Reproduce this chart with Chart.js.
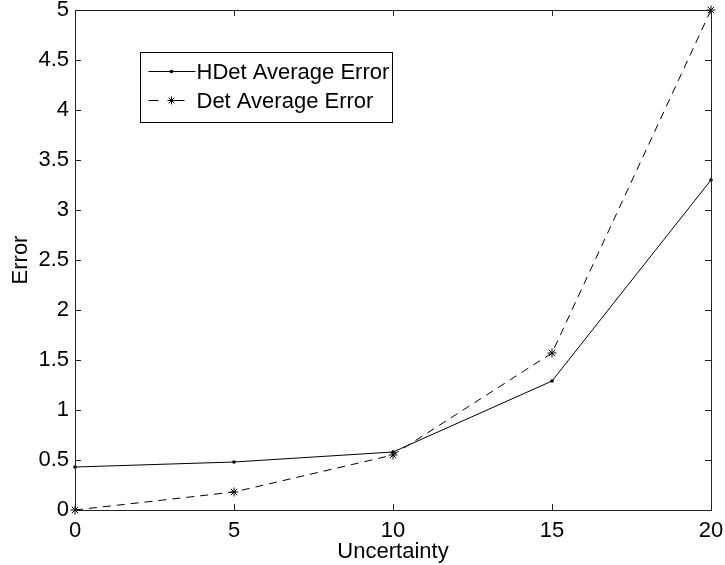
<!DOCTYPE html>
<html><head><meta charset="utf-8">
<script src="https://cdn.jsdelivr.net/npm/chart.js@4/dist/chart.umd.min.js"></script>
<style>html,body{margin:0;padding:0;background:#fff}#wrap{width:725px;height:565px}</style>
</head><body><div id="wrap"><canvas id="c" width="725" height="565"></canvas></div>
<script>
const uncertainty = [0, 5, 10, 15, 20];
const hdetError = [0.43, 0.48, 0.58, 1.29, 3.30];
const detError = [0.00, 0.18, 0.55, 1.57, 5.00];
const xTicks = [0, 5, 10, 15, 20];
const yTicks = [0, 0.5, 1, 1.5, 2, 2.5, 3, 3.5, 4, 4.5, 5];
const seriesNames = ['HDet Average Error', 'Det Average Error'];

const FONT = 'Liberation Sans, Arial, Helvetica, sans-serif';

const boxTicks = {
  id: 'boxTicks',
  afterDraw(chart) {
    const {ctx, chartArea: a, scales: {x, y}} = chart;
    ctx.save();
    ctx.strokeStyle = '#222';
    ctx.lineWidth = 1;
    ctx.strokeRect(a.left + 0.5, a.top + 0.5, a.right - a.left, a.bottom - a.top);
    const L = 6;
    ctx.beginPath();
    xTicks.forEach(v => {
      const px = Math.round(x.getPixelForValue(v)) + 0.5;
      ctx.moveTo(px, a.bottom); ctx.lineTo(px, a.bottom - L);
      ctx.moveTo(px, a.top); ctx.lineTo(px, a.top + L);
    });
    yTicks.forEach(v => {
      const py = Math.round(y.getPixelForValue(v)) + 0.5;
      ctx.moveTo(a.left, py); ctx.lineTo(a.left + L, py);
      ctx.moveTo(a.right, py); ctx.lineTo(a.right - L, py);
    });
    ctx.stroke();
    // legend
    const bx = 140.5, by = 52.5, bw = 252, bh = 70;
    ctx.fillStyle = '#fff';
    ctx.fillRect(bx, by, bw, bh);
    ctx.strokeStyle = '#000';
    ctx.strokeRect(bx, by, bw, bh);
    ctx.font = '22px ' + FONT;
    ctx.textBaseline = 'middle';
    ctx.fillStyle = '#000';
    const rows = [by + 18, by + 47];
    chart.data.datasets.forEach((ds, i) => {
      const ry = Math.round(rows[i]) + 0.5;
      ctx.beginPath();
      ctx.setLineDash(i === 1 ? [10, 16] : []);
      ctx.strokeStyle = '#000';
      ctx.moveTo(bx + 8, ry); ctx.lineTo(bx + 55, ry);
      ctx.stroke();
      ctx.setLineDash([]);
      const mx = bx + 31;
      if (i === 0) {
        ctx.beginPath(); ctx.arc(mx, ry, 1.8, 0, Math.PI * 2); ctx.fill();
      } else {
        ctx.beginPath();
        const r = 4;
        for (let k = 0; k < 4; k++) {
          const ang = k * Math.PI / 4;
          ctx.moveTo(mx - r * Math.cos(ang), ry - r * Math.sin(ang));
          ctx.lineTo(mx + r * Math.cos(ang), ry + r * Math.sin(ang));
        }
        ctx.stroke();
      }
      ctx.fillText(ds.label, bx + 56, ry + 1);
    });
    ctx.restore();
  }
};

new Chart(document.getElementById('c'), {
  type: 'line',
  data: {
    datasets: [
      {
        label: seriesNames[0],
        data: uncertainty.map((u, i) => ({x: u, y: hdetError[i]})),
        borderColor: '#000', backgroundColor: '#000', borderWidth: 1,
        pointStyle: 'circle', pointRadius: 1.8, pointBorderWidth: 0,
        tension: 0, clip: false
      },
      {
        label: seriesNames[1],
        data: uncertainty.map((u, i) => ({x: u, y: detError[i]})),
        borderColor: '#000', backgroundColor: '#000', borderWidth: 1,
        borderDash: [8, 6],
        pointStyle: 'star', pointRadius: 4.5, pointBorderWidth: 1,
        tension: 0, clip: false
      }
    ]
  },
  options: {
    responsive: false, animation: false, devicePixelRatio: 1,
    layout: {padding: {top: 0, right: 14, left: 0, bottom: 0}},
    plugins: {legend: {display: false}, tooltip: {enabled: false}},
    scales: {
      x: {
        type: 'linear', min: 0, max: 20,
        afterBuildTicks: s => { s.ticks = xTicks.map(v => ({value: v})); },
        afterFit: s => { s.height = 55; s.paddingLeft = 0; s.paddingRight = 0; },
        grid: {display: false, drawTicks: false},
        border: {display: false},
        ticks: {color: '#000', font: {family: FONT, size: 22}, padding: 8, maxRotation: 0,
                callback: v => String(v)},
        title: {display: true, text: 'Uncertainty', color: '#000', font: {family: FONT, size: 22}, padding: {top: 0, bottom: 0}}
      },
      y: {
        type: 'linear', min: 0, max: 5,
        afterBuildTicks: s => { s.ticks = yTicks.map(v => ({value: v})); },
        afterFit: s => { s.width = 75; s.paddingTop = 10; s.paddingBottom = 0; },
        grid: {display: false, drawTicks: false},
        border: {display: false},
        ticks: {color: '#000', font: {family: FONT, size: 22}, padding: 6,
                callback: v => String(v)},
        title: {display: true, text: 'Error', color: '#000', font: {family: FONT, size: 22}, padding: {top: 8, bottom: 0}}
      }
    }
  },
  plugins: [boxTicks]
});
</script>
</body></html>
